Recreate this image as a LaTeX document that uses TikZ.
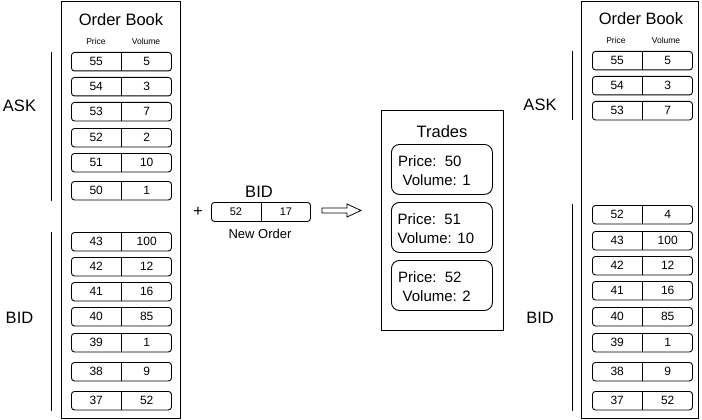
\documentclass[tikz,border=0pt]{standalone}
\usepackage{fontspec}
\setmainfont{Liberation Sans}
\usetikzlibrary{calc}
\tikzset{
  frame/.style={draw, line width=0.9pt},
  rowbox/.style={draw, line width=0.9pt, rounded corners=3pt, minimum width=100pt, minimum height=18.5pt, anchor=north west},
  tradebox/.style={draw, line width=0.9pt, rounded corners=8pt, minimum width=101pt, minimum height=50pt, anchor=north west},
  num/.style={font=\fontsize{12}{14}\selectfont},
  small/.style={font=\fontsize{8.5}{10}\selectfont},
  title/.style={font=\fontsize{16.5}{19}\selectfont},
  side/.style={font=\fontsize{16.5}{19}\selectfont},
  tradetext/.style={font=\fontsize{15}{19}\selectfont, align=left, anchor=west},
  sideline/.style={line width=0.9pt},
}
\newcommand\bookrow[5]{%
  \node[rowbox] (#1) at (#2,#3) {};
  \draw[line width=0.9pt] (#1.north) -- (#1.south);
  \node[num] (#1p) at ($(#1.west)!0.25!(#1.east)$) {#4};
  \node[num] (#1v) at ($(#1.west)!0.75!(#1.east)$) {#5};
}
\begin{document}
\begin{tikzpicture}[x=1pt,y=-1pt, every node/.style={inner sep=0pt}]
\useasboundingbox (0,0) rectangle (702,420);
\fill[white] (0,0) rectangle (702,420);

% ---------- left order book ----------
\node[frame, minimum width=119pt, minimum height=417pt] (LB) at (121,210) {};
\node[title] (LBt) at (121,20) {Order Book};
\node[small] (LBp) at (96,41) {Price};
\node[small] (LBv) at (146,41) {Volume};
\bookrow{L55}{71}{52}{55}{5}
\bookrow{L54}{71}{77}{54}{3}
\bookrow{L53}{71}{102}{53}{7}
\bookrow{L52}{71}{128}{52}{2}
\bookrow{L51}{71}{153}{51}{10}
\bookrow{L50}{71}{181}{50}{1}
\bookrow{L43}{71}{232}{43}{100}
\bookrow{L42}{71}{257}{42}{12}
\bookrow{L41}{71}{282}{41}{16}
\bookrow{L40}{71}{307}{40}{85}
\bookrow{L39}{71}{333}{39}{1}
\bookrow{L38}{71}{362}{38}{9}
\bookrow{L37}{71}{391}{37}{52}

\node[side] (LASK) at (19.5,106) {ASK};
\node[side] (LBID) at (19.5,318) {BID};
\coordinate (la1) at (51,52);
\coordinate (la2) at (51,201);
\coordinate (lb1) at (51,232);
\coordinate (lb2) at (51,411);
\draw[sideline] (la1) -- (la2);
\draw[sideline] (lb1) -- (lb2);

% ---------- new order ----------
\node[font=\fontsize{16}{18}\selectfont] (plus) at (198,212) {+};
\node[rowbox, minimum width=99pt, minimum height=19pt] (NO) at (211,202) {};
\draw[line width=0.9pt] (NO.north) -- (NO.south);
\node[font=\fontsize{11}{13}\selectfont] (NOp) at ($(NO.west)!0.25!(NO.east)$) {52};
\node[font=\fontsize{11}{13}\selectfont] (NOv) at ($(NO.west)!0.75!(NO.east)$) {17};
\node[side] (NObid) at (259,192) {BID};
\node[font=\fontsize{13}{15}\selectfont] (NOlab) at (260,233.5) {New Order};

% ---------- hollow arrow ----------
\draw[line width=0.8pt, fill=white, line join=miter]
  (322,208) -- (347,208) -- (347,204) -- (361,210.5) -- (347,217) -- (347,213) -- (322,213) -- cycle;

% ---------- trades ----------
\node[frame, minimum width=122pt, minimum height=220pt] (TR) at (442,220) {};
\node[title] (TRt) at (442,132) {Trades};
\node[tradebox] (T1) at (391,144) {};
\node[tradebox] (T2) at (391,202) {};
\node[tradebox] (T3) at (391,260) {};
\node[tradetext] (T1t) at (398,170.5) {Price:\ \ 50\\\hspace*{4.5pt}Volume: 1};
\node[tradetext] (T2t) at (397.5,228.5) {Price:\ \ 51\\Volume: 10};
\node[tradetext] (T3t) at (398,286.5) {Price:\ \ 52\\\hspace*{4.5pt}Volume: 2};

% ---------- right order book ----------
\node[frame, minimum width=117pt, minimum height=417pt] (RB) at (640,209.5) {};
\node[title] (RBt) at (641,19) {Order Book};
\node[small] (RBp) at (616,40) {Price};
\node[small] (RBv) at (666,40) {Volume};
\bookrow{R55}{592}{51}{55}{5}
\bookrow{R54}{592}{76}{54}{3}
\bookrow{R53}{592}{101}{53}{7}
\bookrow{R52}{592}{205}{52}{4}
\bookrow{R43}{592}{231}{43}{100}
\bookrow{R42}{592}{256}{42}{12}
\bookrow{R41}{592}{281}{41}{16}
\bookrow{R40}{592}{307}{40}{85}
\bookrow{R39}{592}{333}{39}{1}
\bookrow{R38}{592}{362}{38}{9}
\bookrow{R37}{592}{391}{37}{52}

\node[side] (RASK) at (540,105) {ASK};
\node[side] (RBID) at (540,318) {BID};
\coordinate (ra1) at (572,51);
\coordinate (ra2) at (572,120);
\coordinate (rb1) at (572,204);
\coordinate (rb2) at (572,411);
\draw[sideline] (ra1) -- (ra2);
\draw[sideline] (rb1) -- (rb2);
\end{tikzpicture}
\end{document}
